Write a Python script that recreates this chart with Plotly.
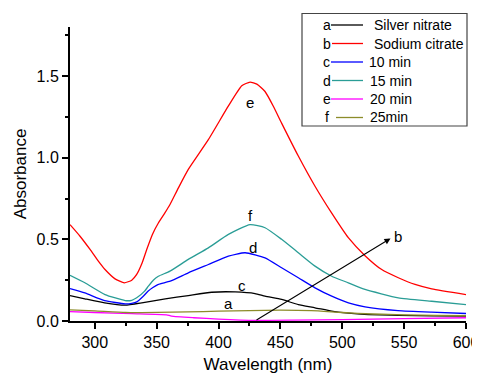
import plotly.graph_objects as go

# ---------------- data ----------------
silver_x = [280, 292, 308, 324.5, 338, 357, 375.6, 394.5, 413.4, 429.5, 437.6, 451, 464.5, 478, 491.5, 505, 518, 545, 572, 600]
silver_y = [0.156, 0.136, 0.111, 0.097, 0.111, 0.136, 0.156, 0.176, 0.178, 0.168, 0.152, 0.132, 0.100, 0.081, 0.060, 0.048, 0.040, 0.035, 0.032, 0.030]

citrate_x = [280, 288.1, 296.2, 302.9, 308.3, 316.4, 323.9, 329.9, 333.9, 338, 342, 346.6, 351.4, 356.8, 360.8, 367.6, 375.6, 391.8, 407.9, 418.8, 425.5, 431, 437.6, 444.3, 451.1, 464.5, 478, 491.5, 504.9, 518.4, 531.9, 545.3, 558.8, 572.3, 600]
citrate_y = [0.59, 0.519, 0.438, 0.366, 0.315, 0.258, 0.234, 0.25, 0.285, 0.350, 0.438, 0.53, 0.60, 0.663, 0.713, 0.815, 0.928, 1.11, 1.315, 1.44, 1.463, 1.45, 1.405, 1.315, 1.21, 1.01, 0.825, 0.66, 0.51, 0.40, 0.315, 0.265, 0.224, 0.197, 0.162]

min10_x = [280, 292, 308, 324.5, 329.9, 334, 339, 343, 347, 351.4, 361, 375.6, 391.8, 408, 421.5, 437.6, 451, 464.5, 478, 491.5, 505, 518.4, 545, 572, 600]
min10_y = [0.199, 0.172, 0.125, 0.105, 0.108, 0.117, 0.150, 0.182, 0.205, 0.224, 0.244, 0.295, 0.346, 0.397, 0.418, 0.387, 0.326, 0.265, 0.203, 0.152, 0.111, 0.087, 0.064, 0.054, 0.046]

min15_x = [280, 292, 308.3, 324.5, 329.9, 333.9, 340.3, 343.3, 347.3, 351.4, 360.8, 375.6, 391.8, 408, 425.5, 437.6, 451, 464.5, 478, 491.5, 504.9, 518.4, 545.3, 572.3, 600]
min15_y = [0.28, 0.234, 0.162, 0.125, 0.127, 0.142, 0.183, 0.213, 0.25, 0.274, 0.305, 0.377, 0.448, 0.53, 0.59, 0.571, 0.50, 0.418, 0.336, 0.274, 0.234, 0.193, 0.142, 0.121, 0.10]

min20_x = [280, 300, 330, 358, 362, 380, 400, 430, 460, 500, 550, 600]
min20_y = [0.058, 0.052, 0.045, 0.038, 0.030, 0.020, 0.012, 0.004, 0.005, 0.008, 0.014, 0.020]

min25_x = [280, 300, 325, 350, 375, 400, 425, 450, 475, 500, 525, 550, 575, 600]
min25_y = [0.068, 0.062, 0.052, 0.053, 0.056, 0.060, 0.064, 0.066, 0.063, 0.052, 0.043, 0.038, 0.035, 0.032]

series_names = ["Silver nitrate", "Sodium citrate", "10 min", "15 min", "20 min", "25min"]
series_letters = ["a", "b", "c", "d", "e", "f"]
series_x = [silver_x, citrate_x, min10_x, min15_x, min20_x, min25_x]
series_y = [silver_y, citrate_y, min10_y, min15_y, min20_y, min25_y]
colors = ["#000000", "#ff0000", "#0000ff", "#2a9d96", "#ff00ff", "#8c8c2a"]

# curve labels placed on the plot (letter, x, y)
curve_label_text = ["e", "f", "d", "c", "a"]
curve_label_x = [425.5, 426, 428, 418.8, 408]
curve_label_y = [1.34, 0.645, 0.45, 0.215, 0.105]

# arrow toward label "b"
arrow_start = (429.5, 0.0)
arrow_end = (539, 0.505)
arrow_label = ("b", 545, 0.52)

# the page body adds an 8px offset; the figure is sized so its plot lands
# at the reference's pixel positions (plot area 70..466 x 27..321)
OFF = 8
W, H = 480 - OFF, 377 - OFF
ML, MR, MT, MB = 70 - OFF, 14, 27 - OFF, 56
PW, PH = W - ML - MR, H - MT - MB


def px(xp):
    return (xp - OFF - ML) / PW


def py(yp):
    return (H - MB - (yp - OFF)) / PH


fig = go.Figure()
for xs, ys, c, n in zip(series_x, series_y, colors, series_names):
    fig.add_trace(go.Scatter(x=xs, y=ys, mode="lines", name=n,
                             line=dict(color=c, width=1.3, shape="spline", smoothing=0.5),
                             showlegend=False))

FONT = "Liberation Sans, Arial, sans-serif"
annotations = []
for t, x, y in zip(curve_label_text, curve_label_x, curve_label_y):
    annotations.append(dict(x=x, y=y, xref="x", yref="y", text=t, showarrow=False,
                            font=dict(size=15, color="black", family=FONT)))

annotations.append(dict(x=arrow_end[0], y=arrow_end[1], ax=arrow_start[0], ay=arrow_start[1],
                        xref="x", yref="y", axref="x", ayref="y", text="", showarrow=True,
                        arrowhead=2, arrowsize=1.1, arrowwidth=1.1, arrowcolor="black"))
annotations.append(dict(x=arrow_label[1], y=arrow_label[2], xref="x", yref="y", text=arrow_label[0],
                        showarrow=False, font=dict(size=15, color="black", family=FONT)))

# custom legend (letter, line sample, name)
shapes = [dict(type="rect", xref="paper", yref="paper", x0=px(302), x1=px(467), y0=py(126), y1=py(13.5),
               line=dict(color="#444444", width=1.2), fillcolor="white", layer="above")]
row_y = [25, 43.5, 62, 80.5, 99, 117.5]
line_x0 = [331, 332, 331, 332, 331, 336]
text_x = [372, 372, 367, 368, 368, 368]
for i in range(6):
    yy = py(row_y[i])
    shapes.append(dict(type="line", xref="paper", yref="paper", x0=px(line_x0[i]), x1=px(363), y0=yy, y1=yy,
                       line=dict(color=colors[i], width=1.3), layer="above"))
    annotations.append(dict(x=px(326.5), y=yy, xref="paper", yref="paper", text=series_letters[i],
                            showarrow=False, xanchor="center", yanchor="middle",
                            font=dict(size=14, color="black", family=FONT)))
    annotations.append(dict(x=px(text_x[i]), y=yy, xref="paper", yref="paper", text=series_names[i],
                            showarrow=False, xanchor="left", yanchor="middle",
                            font=dict(size=14, color="black", family=FONT)))

fig.update_layout(
    width=W, height=H, autosize=False,
    margin=dict(l=ML, r=MR, t=MT, b=MB, autoexpand=False),
    paper_bgcolor="white", plot_bgcolor="white",
    font=dict(family=FONT, color="black"),
    annotations=annotations, shapes=shapes,
    showlegend=False,
)
fig.update_xaxes(range=[280, 600], tickvals=[300, 350, 400, 450, 500, 550, 600], automargin=False,
                 ticks="outside", ticklen=6, tickwidth=1.5, tickcolor="black",
                 minor=dict(tickvals=[325, 375, 425, 475, 525, 575], ticks="outside", ticklen=3, tickwidth=1.5, tickcolor="black"),
                 showline=True, linecolor="black", linewidth=2, showgrid=False, zeroline=False,
                 tickfont=dict(size=16), title=dict(text="Wavelength (nm)", font=dict(size=17), standoff=8))
fig.update_yaxes(range=[0, 1.8], tickvals=[0, 0.5, 1.0, 1.5], ticktext=["0.0", "0.5", "1.0", "1.5"], automargin=False,
                 ticks="outside", ticklen=6, tickwidth=1.5, tickcolor="black",
                 minor=dict(tickvals=[0.25, 0.75, 1.25, 1.75], ticks="outside", ticklen=3, tickwidth=1.5, tickcolor="black"),
                 showline=True, linecolor="black", linewidth=2, showgrid=False, zeroline=False,
                 tickfont=dict(size=16), title=dict(text="Absorbance", font=dict(size=17), standoff=6))

fig.write_html("out.html")
